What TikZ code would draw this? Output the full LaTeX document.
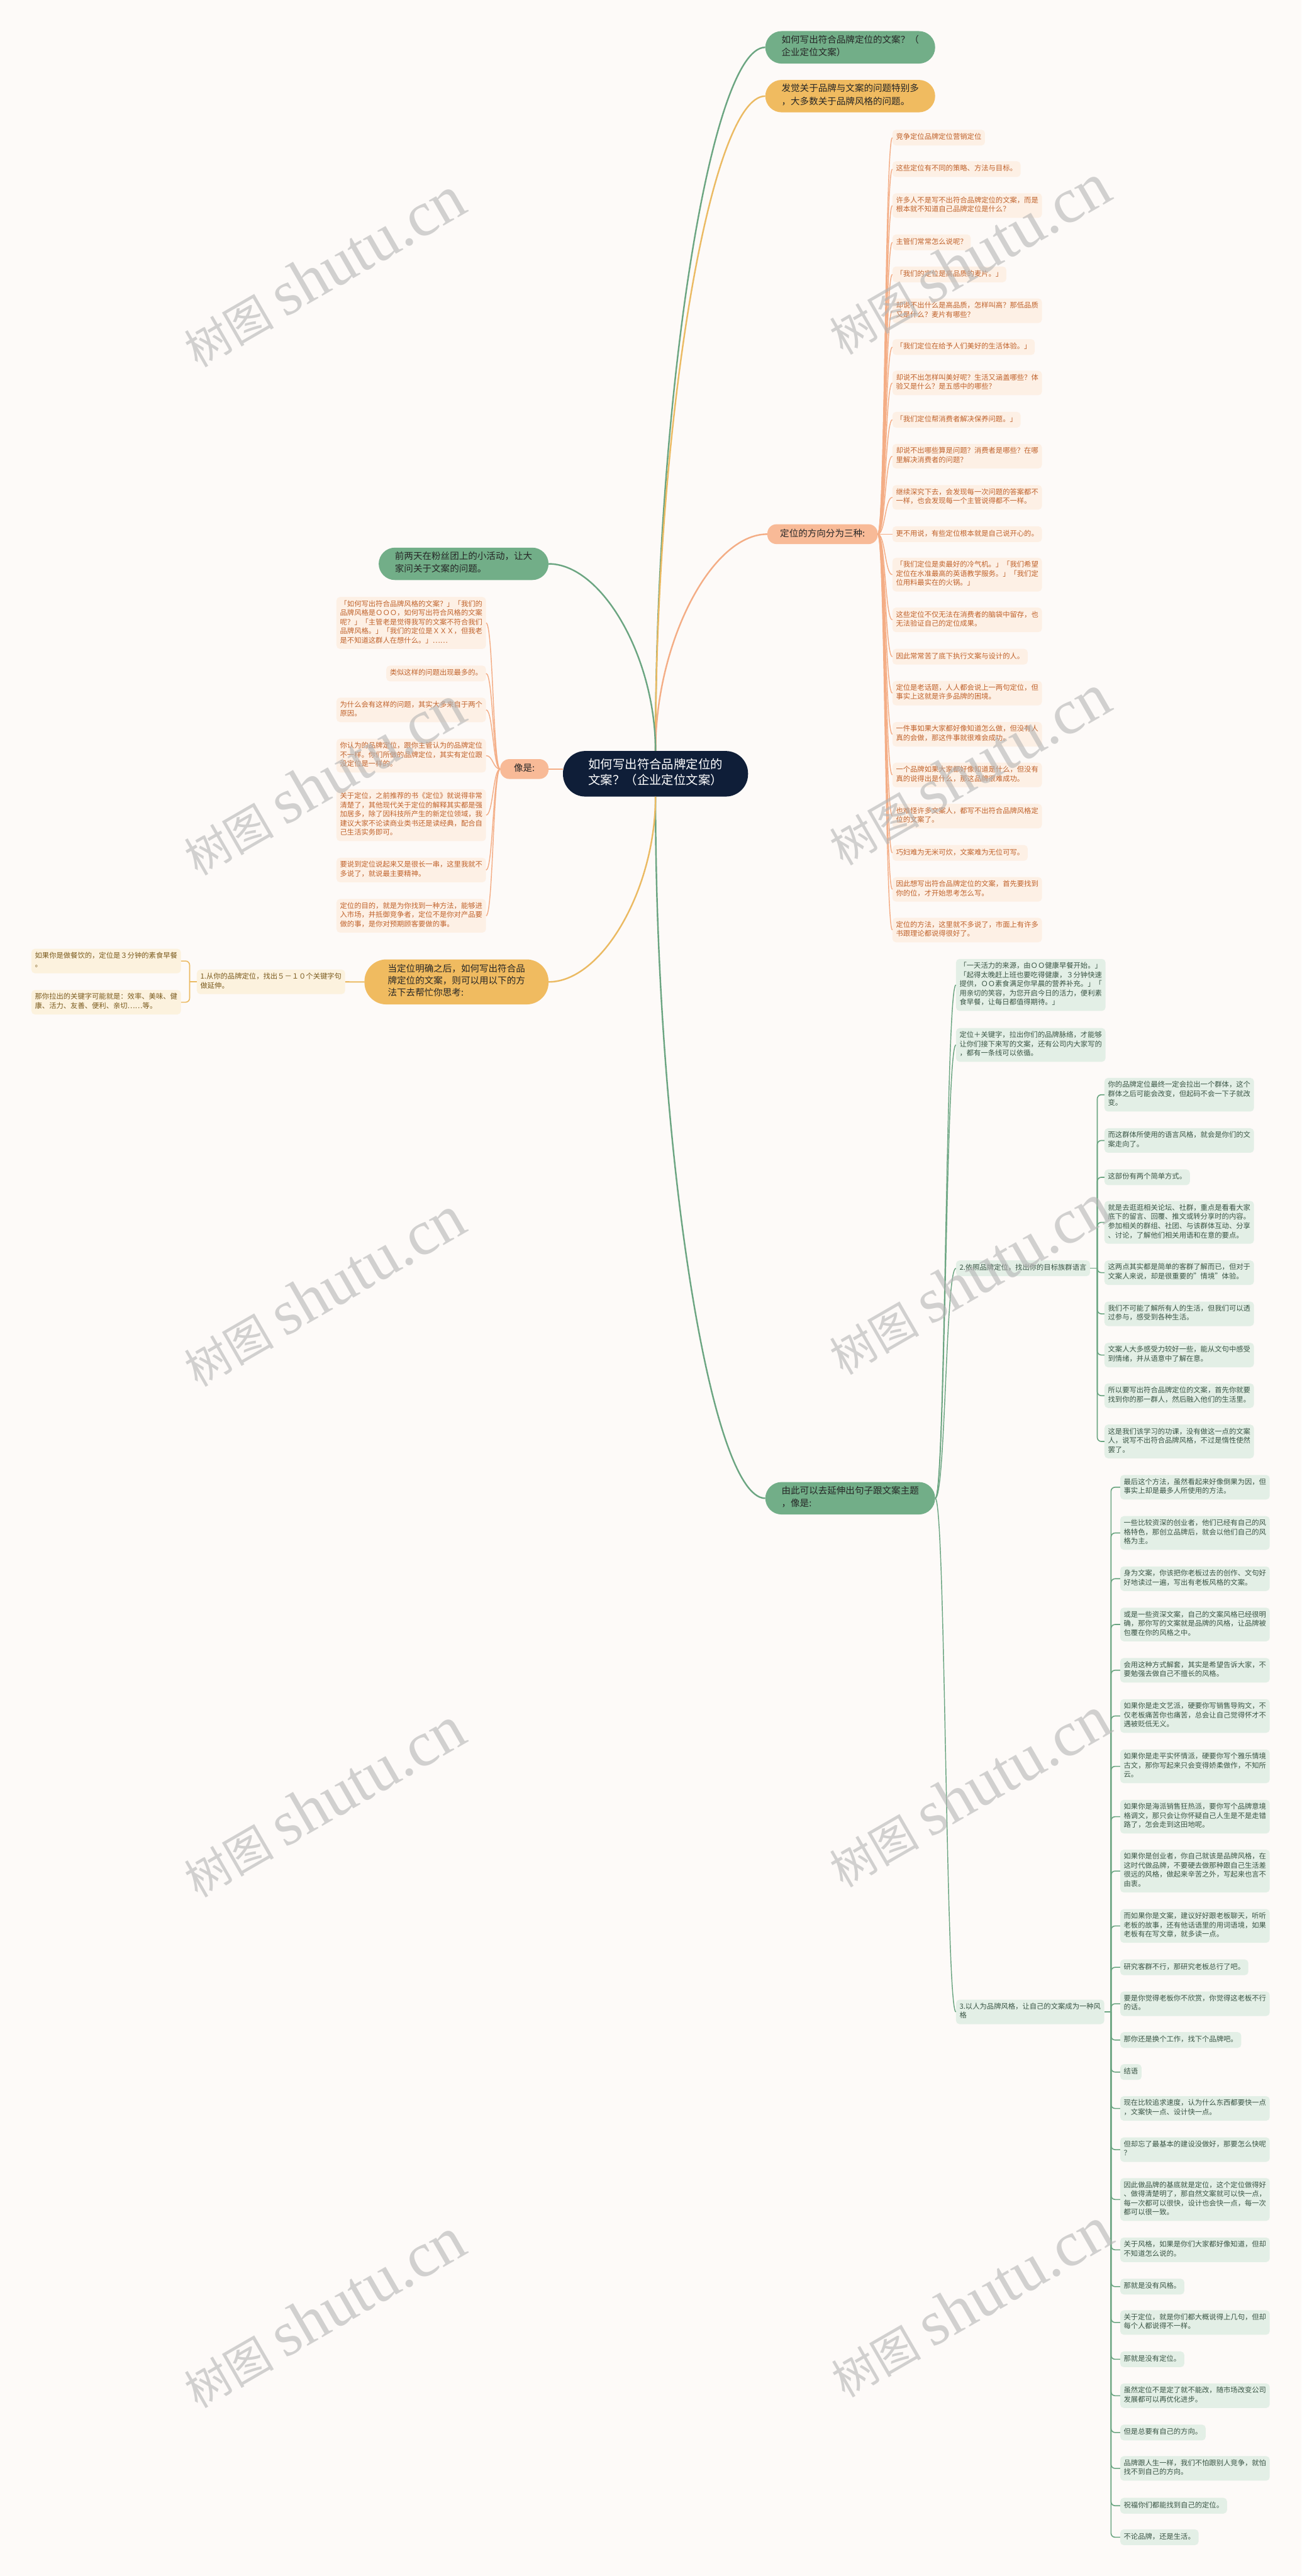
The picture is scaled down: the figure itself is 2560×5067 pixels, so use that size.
\documentclass[tikz,border=0pt]{standalone}
\usepackage{fontspec}
\setmainfont{Noto Sans CJK SC}
\newfontfamily\wmfont{Liberation Serif}
\usetikzlibrary{positioning, calc}

\definecolor{bgc}{HTML}{FDFAF8}
\definecolor{rootc}{HTML}{0F1E38}
\definecolor{brgreen}{HTML}{72AE88}
\definecolor{brgold}{HTML}{F0BB60}
\definecolor{brpeach}{HTML}{F8BA97}
\definecolor{lforange}{HTML}{FDF0E5}
\definecolor{txorange}{HTML}{C0622B}
\definecolor{lfgold}{HTML}{FCF2DE}
\definecolor{txgold}{HTML}{7A5A1D}
\definecolor{lfgreen}{HTML}{E3EFE6}
\definecolor{txgreen}{HTML}{3A5545}
\definecolor{lngreen}{HTML}{6BA581}
\definecolor{lngold}{HTML}{EBBA62}
\definecolor{lnpeach}{HTML}{F4AD85}
\definecolor{wmgray}{HTML}{B4B4B4}

\begin{document}
\begin{tikzpicture}[x=1pt, y=-1pt,
    root_node/.style={rectangle, fill=rootc, text=white, rounded corners=44pt, align=left, font=\fontsize{24}{31}\selectfont, inner xsep=50pt, inner ysep=14.5pt, anchor=north west, execute at begin node=\strut, execute at end node=\strut},
    branch/.style={rectangle, text=black!85, align=left, font=\fontsize{18}{25}\selectfont, inner xsep=32pt, inner ysep=8pt, rounded corners=32pt, execute at begin node=\strut, execute at end node=\strut},
    leaf/.style={rectangle, align=left, font=\fontsize{14}{18}\selectfont, inner xsep=7pt, inner ysep=6.5pt, rounded corners=7pt, execute at begin node=\strut, execute at end node=\strut},
    leaf_orange/.style={leaf, fill=lforange, text=txorange},
    leaf_gold/.style={leaf, fill=lfgold, text=txgold},
    leaf_green/.style={leaf, fill=lfgreen, text=txgreen},
    main_line/.style={line width=3pt, to path={.. controls ($(\tikztostart)!0.5!(\tikztostart |- \tikztotarget)$) and ($(\tikztotarget)!0.5!(\tikztostart |- \tikztotarget)$) .. (\tikztotarget)}},
    leaf_line/.style={line width=1.8pt, to path={.. controls ($(\tikztostart)!0.5!(\tikztotarget |- \tikztostart)$) and ($(\tikztotarget)!0.5!(\tikztostart |- \tikztotarget)$) .. (\tikztotarget)}},
    elbow_line/.style={line width=2pt, rounded corners=8pt},
    watermark/.style={text=wmgray, opacity=0.6, rotate=30}
  ]

  \useasboundingbox (0,0) rectangle (2560,5067);
  \fill[bgc] (0,0) rectangle (2560,5067);

  % Central topic
  \node[root_node] (root) at (1107,1477) {如何写出符合品牌定位的\\文案？（企业定位文案）};

  % Main branches, right
  \node[branch, fill=brgreen, anchor=north west] (ask) at (1505,61) {如何写出符合品牌定位的文案？（\\企业定位文案）};
  \node[branch, fill=brgold, anchor=north west] (found) at (1505,157) {发觉关于品牌与文案的问题特别多\\，大多数关于品牌风格的问题。};
  \node[branch, fill=brpeach, anchor=north west, inner xsep=25pt, inner ysep=7pt, rounded corners=18pt] (dir) at (1509,1031) {定位的方向分为三种:};
  \node[branch, fill=brgreen, anchor=north west] (ext) at (1505,2915) {由此可以去延伸出句子跟文案主题\\，像是:};

  % Main branches, left
  \node[branch, fill=brgreen, anchor=north east] (fans) at (1079,1077) {前两天在粉丝团上的小活动，让大\\家问关于文案的问题。};
  \node[branch, fill=brpeach, anchor=north east, inner xsep=27pt, inner ysep=7pt, rounded corners=18pt] (like) at (1079,1493) {像是:};
  \node[branch, fill=brgold, anchor=north east, font=\fontsize{18}{24}\selectfont, inner xsep=46pt, inner ysep=9pt, rounded corners=43pt] (when) at (1079,1887) {当定位明确之后，如何写出符合品\\牌定位的文案，则可以用以下的方\\法下去帮忙你思考:};

  % Three directions of positioning
  \foreach \y/\txt [count=\i] in {
      255/竞争定位品牌定位营销定位,
      317/这些定位有不同的策略、方法与目标。,
      380/许多人不是写不出符合品牌定位的文案，而是\\根本就不知道自己品牌定位是什么？,
      461/主管们常常怎么说呢？,
      524/「我们的定位是高品质的麦片。」,
      587/却说不出什么是高品质，怎样叫高？那低品质\\又是什么？麦片有哪些？,
      667/「我们定位在给予人们美好的生活体验。」,
      729/却说不出怎样叫美好呢？生活又涵盖哪些？体\\验又是什么？是五感中的哪些？,
      810/「我们定位帮消费者解决保养问题。」,
      873/却说不出哪些算是问题？消费者是哪些？在哪\\里解决消费者的问题？,
      954/继续深究下去，会发现每一次问题的答案都不\\一样，也会发现每一个主管说得都不一样。,
      1035/更不用说，有些定位根本就是自己说开心的。,
      1097/「我们定位是卖最好的冷气机。」「我们希望\\定位在水准最高的英语教学服务。」「我们定\\位用料最实在的火锅。」,
      1195/这些定位不仅无法在消费者的脑袋中留存，也\\无法验证自己的定位成果。,
      1276/因此常常苦了底下执行文案与设计的人。,
      1339/定位是老话题，人人都会说上一两句定位，但\\事实上这就是许多品牌的困境。,
      1420/一件事如果大家都好像知道怎么做，但没有人\\真的会做，那这件事就很难会成功。,
      1500/一个品牌如果大家都好像知道是什么，但没有\\真的说得出是什么，那这品牌很难成功。,
      1581/也难怪许多文案人，都写不出符合品牌风格定\\位的文案了。,
      1662/巧妇难为无米可炊，文案难为无位可写。,
      1725/因此想写出符合品牌定位的文案，首先要找到\\你的位，才开始思考怎么写。,
      1805/定位的方法，这里就不多说了，市面上有许多\\书跟理论都说得很好了。} {
      \node[leaf_orange, anchor=north west] (r\i) at (1755,\y) {\txt};
    }

  % Questions from the fans
  \foreach \y/\txt [count=\i] in {
      1174/「如何写出符合品牌风格的文案？」「我们的\\品牌风格是ＯＯＯ，如何写出符合风格的文案\\呢？」「主管老是觉得我写的文案不符合我们\\品牌风格。」「我们的定位是ＸＸＸ，但我老\\是不知道这群人在想什么。」……,
      1309/类似这样的问题出现最多的。,
      1372/为什么会有这样的问题，其实大多来自于两个\\原因。,
      1453/你认为的品牌定位，跟你主管认为的品牌定位\\不一样。你们所做的品牌定位，其实有定位跟\\没定位是一样的。,
      1552/关于定位，之前推荐的书《定位》就说得非常\\清楚了，其他现代关于定位的解释其实都是强\\加居多，除了因科技所产生的新定位领域，我\\建议大家不论读商业类书还是读经典，配合自\\己生活实务即可。,
      1687/要说到定位说起来又是很长一串，这里我就不\\多说了，就说最主要精神。,
      1768/定位的目的，就是为你找到一种方法，能够进\\入市场，并抵御竞争者，定位不是你对产品要\\做的事，是你对预期顾客要做的事。} {
      \node[leaf_orange, anchor=north east] (l\i) at (956,\y) {\txt};
    }

  % Keywords
  \node[leaf_gold, anchor=north east] (kw) at (679,1907) {1.从你的品牌定位，找出５－１０个关键字句\\做延伸。};
  \node[leaf_gold, anchor=north east] (kw1) at (356,1866) {如果你是做餐饮的，定位是３分钟的素食早餐\\。};
  \node[leaf_gold, anchor=north east] (kw2) at (356,1947) {那你拉出的关键字可能就是：效率、美味、健\\康、活力、友善、便利、亲切……等。};

  % Extending sentences
  \node[leaf_green, anchor=north west] (g1) at (1880,1886) {「一天活力的来源，由ＯＯ健康早餐开始。」\\「起得太晚赶上班也要吃得健康，３分钟快速\\提供，ＯＯ素食满足你早晨的营养补充。」「\\用亲切的笑容，为您开启今日的活力，便利素\\食早餐，让每日都值得期待。」};
  \node[leaf_green, anchor=north west] (g2) at (1880,2022) {定位＋关键字，拉出你们的品牌脉络，才能够\\让你们接下来写的文案，还有公司内大家写的\\，都有一条线可以依循。};
  \node[leaf_green, anchor=north west] (g3) at (1880,2479) {2.依照品牌定位，找出你的目标族群语言};
  \node[leaf_green, anchor=north west] (g4) at (1880,3933) {3.以人为品牌风格，让自己的文案成为一种风\\格};

  % Target group language
  \foreach \y/\txt [count=\i] in {
      2120/你的品牌定位最终一定会拉出一个群体，这个\\群体之后可能会改变，但起码不会一下子就改\\变。,
      2219/而这群体所使用的语言风格，就会是你们的文\\案走向了。,
      2300/这部份有两个简单方式。,
      2362/就是去逛逛相关论坛、社群，重点是看看大家\\底下的留言、回覆、推文或转分享时的内容。\\参加相关的群组、社团、与该群体互动、分享\\、讨论，了解他们相关用语和在意的要点。,
      2479/这两点其实都是简单的客群了解而已，但对于\\文案人来说，却是很重要的”情境”体验。,
      2560/我们不可能了解所有人的生活，但我们可以透\\过参与，感受到各种生活。,
      2641/文案人大多感受力较好一些，能从文句中感受\\到情绪，并从语意中了解在意。,
      2721/所以要写出符合品牌定位的文案，首先你就要\\找到你的那一群人，然后融入他们的生活里。,
      2802/这是我们该学习的功课，没有做这一点的文案\\人，说写不出符合品牌风格，不过是惰性使然\\罢了。} {
      \node[leaf_green, anchor=north west] (a\i) at (2172,\y) {\txt};
    }

  % People as brand style
  \foreach \y/\txt [count=\i] in {
      2901/最后这个方法，虽然看起来好像倒果为因，但\\事实上却是最多人所使用的方法。,
      2982/一些比较资深的创业者，他们已经有自己的风\\格特色，那创立品牌后，就会以他们自己的风\\格为主。,
      3081/身为文案，你该把你老板过去的创作、文句好\\好地读过一遍，写出有老板风格的文案。,
      3162/或是一些资深文案，自己的文案风格已经很明\\确，那你写的文案就是品牌的风格，让品牌被\\包覆在你的风格之中。,
      3261/会用这种方式解套，其实是希望告诉大家，不\\要勉强去做自己不擅长的风格。,
      3342/如果你是走文艺派，硬要你写销售导购文，不\\仅老板痛苦你也痛苦，总会让自己觉得怀才不\\遇被贬低无义。,
      3441/如果你是走平实怀情派，硬要你写个雅乐情境\\古文，那你写起来只会变得娇柔做作，不知所\\云。,
      3540/如果你是海派销售狂热派，要你写个品牌意境\\格调文，那只会让你怀疑自己人生是不是走错\\路了，怎会走到这田地呢。,
      3638/如果你是创业者，你自己就该是品牌风格，在\\这时代做品牌，不要硬去做那种跟自己生活差\\很远的风格，做起来辛苦之外，写起来也言不\\由衷。,
      3755/而如果你是文案，建议好好跟老板聊天，听听\\老板的故事，还有他话语里的用词语境，如果\\老板有在写文章，就多读一点。,
      3854/研究客群不行，那研究老板总行了吧。,
      3917/要是你觉得老板你不欣赏，你觉得这老板不行\\的话。,
      3997/那你还是换个工作，找下个品牌吧。,
      4060/结语,
      4123/现在比较追求速度，认为什么东西都要快一点\\，文案快一点、设计快一点。,
      4204/但却忘了最基本的建设没做好，那要怎么快呢\\？,
      4284/因此做品牌的基底就是定位，这个定位做得好\\、做得清楚明了，那自然文案就可以快一点，\\每一次都可以很快，设计也会快一点，每一次\\都可以很一致。,
      4401/关于风格，如果是你们大家都好像知道，但却\\不知道怎么说的。,
      4482/那就是没有风格。,
      4544/关于定位，就是你们都大概说得上几句，但却\\每个人都说得不一样。,
      4625/那就是没有定位。,
      4688/虽然定位不是定了就不能改，随市场改变公司\\发展都可以再优化进步。,
      4769/但是总要有自己的方向。,
      4831/品牌跟人生一样，我们不怕跟别人竞争，就怕\\找不到自己的方向。,
      4913/祝福你们都能找到自己的定位。,
      4975/不论品牌，还是生活。} {
      \node[leaf_green, anchor=north west] (b\i) at (2203,\y) {\txt};
    }

  % Connectors from the central topic
  \draw[main_line, lngreen] (root.north) to (ask.west);
  \draw[main_line, lngold] (root.north) to (found.west);
  \draw[main_line, lnpeach] (root.north) to (dir.west);
  \draw[main_line, lngreen] (root.south) to (ext.west);
  \draw[main_line, lngreen] (root.north) to (fans.east);
  \draw[lnpeach, line width=3pt] (like.east) -- (like.east -| root.west);
  \draw[main_line, lngold] (root.south) to (when.east);

  % Leaf connectors
  \foreach \i in {1,...,22} \draw[leaf_line, lnpeach] (dir.east) to (r\i.west);
  \foreach \i in {1,...,7} \draw[leaf_line, lnpeach] (like.west) to (l\i.east);
  \foreach \i in {1,...,4} \draw[leaf_line, lngreen] (ext.east) to (g\i.west);

  \draw[lngold, line width=2.5pt] (when.west) -- (kw.east);
  \coordinate (kw_j) at ($(kw.west)+(-14,0)$);
  \draw[elbow_line, lngold] (kw.west) -- (kw_j);
  \foreach \i in {1,2} \draw[elbow_line, lngold] (kw_j) |- (kw\i.east);

  \coordinate (g3_j) at ($(g3.east)+(14,0)$);
  \draw[elbow_line, lngreen] (g3.east) -- (g3_j);
  \foreach \i in {1,...,9} \draw[elbow_line, lngreen] (g3_j) |- (a\i.west);

  \coordinate (g4_j) at ($(g4.east)+(13,0)$);
  \draw[elbow_line, lngreen] (g4.east) -- (g4_j);
  \foreach \i in {1,...,26} \draw[elbow_line, lngreen] (g4_j) |- (b\i.west);

  % Watermarks
  \foreach \wx/\wy [count=\i] in {637/535, 1906/510, 637/1535, 1906/1515, 637/2540, 1906/2517, 637/3545, 1906/3525, 637/4550, 1910/4529}
    \node[watermark] (wm\i) at (\wx,\wy) {\fontsize{88}{88}\selectfont 树图\hspace{22pt}{\wmfont\fontsize{125}{125}\selectfont shutu.cn}};

\end{tikzpicture}
\end{document}
